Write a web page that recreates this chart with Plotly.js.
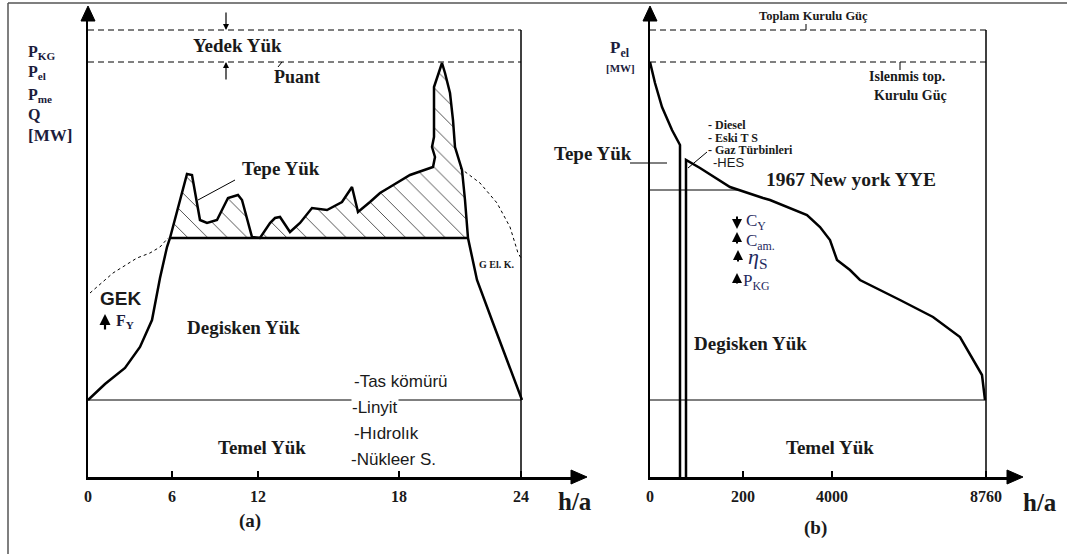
<!DOCTYPE html>
<html>
<head>
<meta charset="utf-8">
<script src="https://cdn.plot.ly/plotly-3.0.1.min.js"></script>
<style>html,body{margin:0;padding:0;background:#fff;}#chart{width:1067px;height:554px;}</style>
</head>
<body>
<div id="chart"></div>
<script>
// ---------- Panel (a): daily load curve (schematic units) ----------
const dayTickPos = [0, 84, 170, 311, 433];
const dayTickText = ['0', '6', '12', '18', '24'];
const loadX = [0, 17, 37, 52, 64, 72, 79, 82, 99, 104, 112, 119, 129, 140, 150, 154, 164, 172, 182, 187, 192, 202, 212, 224, 239, 254, 264, 270, 282, 292, 302, 322, 345, 347, 344, 346, 346, 354, 357, 362, 365, 367, 374, 377, 380, 389, 405, 422, 434];
const loadY = [77, 93, 109, 130, 157, 199, 230, 239, 303, 302, 257, 254, 257, 279, 282, 277, 240, 239, 254, 259, 260, 245, 254, 269, 267, 275, 290, 265, 275, 284, 290, 302, 310, 320, 330, 340, 390, 414, 404, 384, 357, 330, 307, 277, 239, 197, 154, 110, 77];
const peakStartIdx = 7;   // where load crosses the peak-load level
const peakEndIdx = 44;
const envLeftX = [2, 25, 49, 62, 72, 80];
const envLeftY = [184, 204, 219, 224, 230, 239];
const envRightX = [372, 392, 409, 422, 430, 433];
const envRightY = [309, 294, 274, 250, 224, 219];
const dayEnd = 433;
const totalCap = 447;
const installedCap = 415;
const baseLevel = 77;
const peakLevel = 239;

// ---------- Panel (b): annual load duration curve ----------
const yearTickPos = [0, 93, 182, 336];
const yearTickText = ['0', '200', '4000', '8760'];
const durAX = [0, 5, 12, 22, 30, 30];
const durAY = [415, 394, 370, 347, 332, 0];
const durBX = [36, 36, 50, 80, 113, 120, 157, 170, 180, 187, 200, 210, 250, 283, 310, 323, 332, 335];
const durBY = [0, 317, 309, 290, 279, 277, 262, 250, 237, 217, 207, 197, 177, 160, 140, 117, 102, 77];
const yearEnd = 336;
const peakLineB = 287;

// pixel geometry of the two panels
const W = 1067, H = 554;
const ORIG = {a: 88, b: 650};
const BASE_PX = 477;
function PX(panel, X) { return (ORIG[panel] + X) / W; }
function PY(Y) { return (H - BASE_PX + Y) / H; }

const K = 'black';
const tr = [];
function line(x, y, w, dash, xa, ya) {
  return {x: x, y: y, mode: 'lines', line: {color: K, width: w, dash: dash || 'solid'},
    xaxis: xa || 'x', yaxis: ya || 'y', hoverinfo: 'skip'};
}
// hatch of the peak (Tepe) area
tr.push({x: loadX.slice(peakStartIdx, peakEndIdx + 1), y: loadY.slice(peakStartIdx, peakEndIdx + 1),
  mode: 'lines', fill: 'toself', fillcolor: 'rgba(0,0,0,0)', line: {width: 0},
  fillpattern: {shape: '\\', fgcolor: '#333', bgcolor: 'rgba(0,0,0,0)', size: 14, solidity: 0.06},
  xaxis: 'x', yaxis: 'y', hoverinfo: 'skip'});
tr.push(line([0, dayEnd], [totalCap, totalCap], 1, '6px,4px'));
tr.push(line([0, dayEnd], [installedCap, installedCap], 1, '6px,4px'));
tr.push(line([dayEnd, dayEnd], [0, totalCap], 1.5));
tr.push(line([0, dayEnd], [baseLevel, baseLevel], 1));
tr.push(line([loadX[peakStartIdx], loadX[peakEndIdx]], [peakLevel, peakLevel], 2.5));
tr.push(line(envLeftX, envLeftY, 1, '3px,3px'));
tr.push(line(envRightX, envRightY, 1, '3px,3px'));
tr.push(line(loadX, loadY, 2.5));
tr.push(line([147, 110], [297, 277], 1));          // Tepe Yük leader
tr.push(line([194, 190], [415, 410], 1));          // Puant leader

// panel b
tr.push(line([0, yearEnd], [totalCap, totalCap], 1, '6px,4px', 'x2', 'y2'));
tr.push(line([0, yearEnd], [installedCap, installedCap], 1, '6px,4px', 'x2', 'y2'));
tr.push(line([yearEnd, yearEnd], [0, totalCap], 1.5, null, 'x2', 'y2'));
tr.push(line([0, yearEnd], [baseLevel, baseLevel], 1, null, 'x2', 'y2'));
tr.push(line([0, 90], [peakLineB, peakLineB], 1, null, 'x2', 'y2'));
tr.push(line([250, 250], [415, 407], 1, null, 'x2', 'y2'));
tr.push(line([57, 38], [325, 309], 1, null, 'x2', 'y2'));
tr.push(line(durAX, durAY, 2.5, null, 'x2', 'y2'));
tr.push(line(durBX, durBY, 2.5, null, 'x2', 'y2'));

const SERIF = 'Liberation Serif';
const SANS = 'Liberation Sans';
const DARK = '#1a1a1a';
const NAVY = '#1f2a5e';
const LBL = '#1c1c3c';
function txt(panel, text, X, Y, size, opts) {
  const o = opts || {};
  return {text: o.sans || o.plain ? text : '<b>' + text + '</b>', x: PX(panel, X), y: PY(Y), xref: 'paper', yref: 'paper',
    showarrow: false, xanchor: o.xa || 'center', yanchor: 'middle',
    font: {family: o.sans ? SANS : SERIF, size: size, color: o.color || DARK},
    bgcolor: o.bg || 'rgba(0,0,0,0)', borderpad: 0};
}
function arr(panel, X, head, tail, w) {
  return {x: PX(panel, X), y: PY(head), xref: 'paper', yref: 'paper', ax: 0, ay: head - tail, text: '',
    showarrow: true, arrowhead: 2, arrowsize: 1, arrowwidth: w || 1.2, arrowcolor: K};
}
const ann = [
  txt('a', 'Yedek Yük', 149, 431, 19),
  txt('a', 'Puant', 209, 400, 18),
  txt('a', 'P<sub>KG</sub>', -61, 425, 16, {xa: 'left', color: LBL}),
  txt('a', 'P<sub>el</sub>', -61, 404, 16, {xa: 'left', color: LBL}),
  txt('a', 'P<sub>me</sub>', -61, 382, 16, {xa: 'left', color: LBL}),
  txt('a', 'Q', -61, 362, 16, {xa: 'left', color: LBL}),
  txt('a', '[MW]', -61, 342, 17, {xa: 'left', color: LBL}),
  txt('a', 'Tepe Yük', 193, 309, 19),
  txt('a', '<b>GEK</b>', 32, 179, 19, {sans: true}),
  txt('a', 'F<sub>Y</sub>', 27, 156, 16, {xa: 'left', color: LBL}),
  txt('a', 'Degisken Yük', 155, 150, 19),
  txt('a', 'G El. K.', 409, 213, 10),
  txt('a', '-Tas kömürü', 265, 96, 17, {sans: true, xa: 'left'}),
  txt('a', '-Linyit', 263, 70, 17, {sans: true, xa: 'left', bg: 'white'}),
  txt('a', '-Hıdrolık', 265, 44, 17, {sans: true, xa: 'left'}),
  txt('a', '-Nükleer S.', 262, 18, 17, {sans: true, xa: 'left'}),
  txt('a', 'Temel Yük', 174, 30, 19),
  txt('a', 'h/a', 487, -24, 25),
  txt('a', '(a)', 162, -44, 19),
  arr('a', 138, totalCap, 466),
  arr('a', 138, installedCap, 396),
  arr('a', 17, 163, 146, 2.2),
  // panel b
  txt('b', 'Toplam Kurulu Güç', 163, 461, 12.5),
  txt('b', 'P<sub>el</sub>', -30, 428, 17, {color: LBL}),
  txt('b', '[MW]', -30, 409, 11, {color: LBL}),
  txt('b', 'Islenmis top.', 257, 400, 14),
  txt('b', 'Kurulu Güç', 260, 382, 14),
  txt('b', 'Tepe Yük', -57, 324, 19),
  txt('b', '- Diesel', 57, 352, 12, {xa: 'left'}),
  txt('b', '- Eski T S', 57, 339, 12, {xa: 'left'}),
  txt('b', '- Gaz Türbinleri', 57, 327, 12, {xa: 'left'}),
  txt('b', '-HES', 62, 314, 13, {xa: 'left', sans: true}),
  txt('b', '1967 New york YYE', 201, 297, 19.5),
  txt('b', 'C<sub>Y</sub>', 95, 255, 17, {xa: 'left', color: NAVY, plain: true}),
  txt('b', 'C<sub>am.</sub>', 95, 235, 17, {xa: 'left', color: NAVY, plain: true}),
  txt('b', '<i>η</i><sub>S</sub>', 97, 219, 22, {xa: 'left', color: NAVY, plain: true}),
  txt('b', 'P<sub>KG</sub>', 92, 195, 17, {xa: 'left', color: NAVY, plain: true}),
  arr('b', 87, 248, 262, 2),
  arr('b', 87, 245, 232, 2),
  arr('b', 88, 227, 214, 2),
  arr('b', 87, 204, 192, 2),
  txt('b', 'Degisken Yük', 100, 133, 19),
  txt('b', 'Temel Yük', 180, 30, 19),
  txt('b', 'h/a', 390, -25, 25),
  txt('b', '(b)', 165, -51, 19)
];

function tri(pts) {
  return {type: 'path', xref: 'paper', yref: 'paper', fillcolor: K, line: {color: K, width: 1},
    path: 'M' + pts.map(p => p[0] + ',' + p[1]).join(' L') + ' Z'};
}
function P2(px, py) { return [px / W, (H - py) / H]; }
const shapes = [
  {type: 'line', xref: 'paper', yref: 'paper', x0: 8 / W, x1: 1, y0: (H - 3) / H, y1: (H - 3) / H, line: {color: '#555', width: 1.5}},
  {type: 'line', xref: 'paper', yref: 'paper', x0: 8 / W, x1: 8 / W, y0: 0, y1: (H - 3) / H, line: {color: '#555', width: 1.5}},
  // axis arrowheads
  tri([P2(571, 470), P2(587, 477), P2(571, 484)]),
  tri([P2(81, 21), P2(88, 6), P2(95, 21)]),
  tri([P2(1007, 470), P2(1023, 477), P2(1007, 484)]),
  tri([P2(643, 21), P2(650, 6), P2(657, 21)]),
  // leader of Tepe Yük (b) and Toplam Kurulu Güç tick
  {type: 'line', xref: 'paper', yref: 'paper', x0: PX('b', -20), x1: PX('b', 17), y0: PY(314), y1: PY(314), line: {color: K, width: 1}},
  {type: 'line', xref: 'paper', yref: 'paper', x0: PX('b', 156), x1: PX('b', 156), y0: PY(447), y1: PY(453), line: {color: K, width: 1}}
];

function xax(dom, rng, tv, tt, anchor) {
  return {domain: dom, range: rng, anchor: anchor, showgrid: false, zeroline: false, showline: true,
    linecolor: K, linewidth: 2.5, ticks: 'inside', ticklen: 6, tickwidth: 1.5, tickcolor: K,
    tickvals: tv, ticktext: tt.map(s => '<b>' + s + '</b>'), ticklabelstandoff: 3,
    tickfont: {family: SERIF, size: 16, color: DARK}, fixedrange: true};
}
function yax(anchor) {
  return {domain: [77 / H, 535 / H], range: [0, 458], anchor: anchor, showgrid: false, zeroline: false,
    showline: true, linecolor: K, linewidth: 2.5, ticks: '', showticklabels: false, fixedrange: true};
}
const layout = {
  width: W, height: H, margin: {l: 0, r: 0, t: 0, b: 0},
  paper_bgcolor: 'white', plot_bgcolor: 'rgba(0,0,0,0)', showlegend: false,
  xaxis: xax([88 / W, 572 / W], [0, 484], dayTickPos, dayTickText, 'y'),
  yaxis: yax('x'),
  xaxis2: xax([650 / W, 1008 / W], [0, 358], yearTickPos, yearTickText, 'y2'),
  yaxis2: yax('x2'),
  annotations: ann,
  shapes: shapes
};
Plotly.newPlot('chart', tr, layout, {displayModeBar: false, staticPlot: true});
</script>
</body>
</html>
